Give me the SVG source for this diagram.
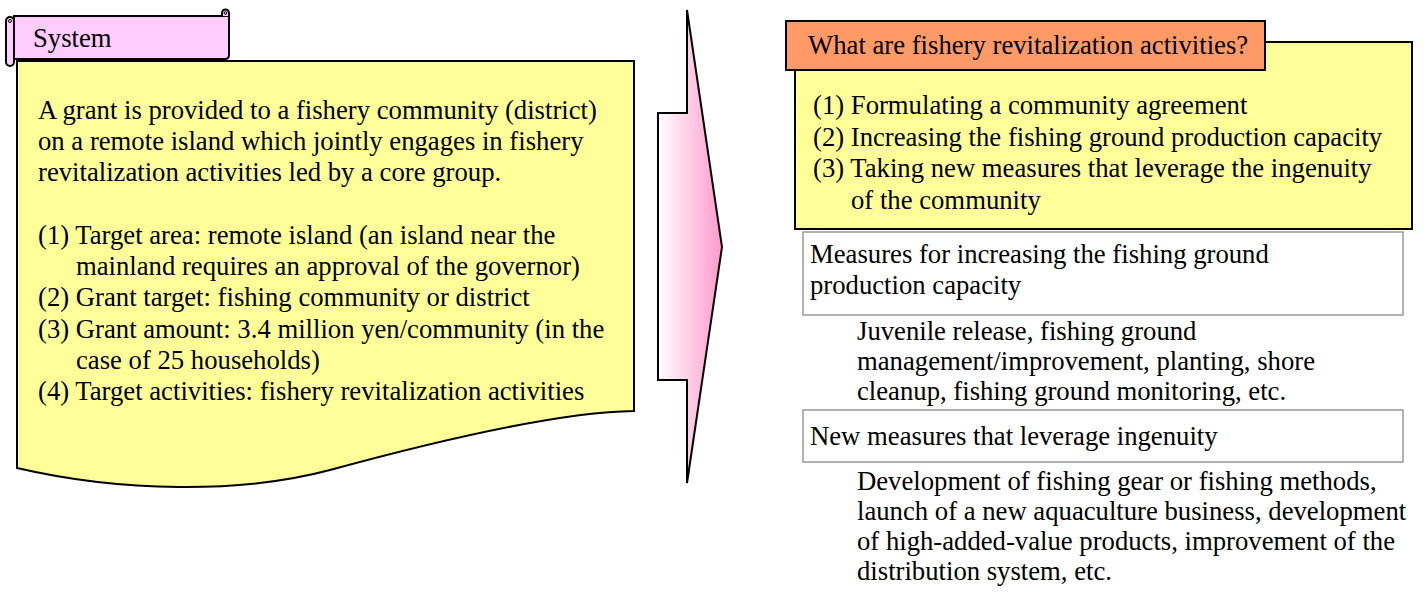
<svg xmlns="http://www.w3.org/2000/svg" width="1424" height="592" viewBox="0 0 1424 592">
<defs>
<linearGradient id="arrowGrad" x1="0" y1="0" x2="1" y2="0">
<stop offset="0" stop-color="#FFFFFF"/>
<stop offset="1" stop-color="#FF99CC"/>
</linearGradient>
<style>
text{font-family:"Liberation Serif","Times New Roman",serif;font-size:26.7px;fill:#000}
.yellow{fill:#FFFF99;stroke:#000;stroke-width:2}
.pink{fill:#FFCCFF;stroke:#000;stroke-width:2}
.orange{fill:#FF9966;stroke:#000;stroke-width:2}
.sub{fill:#FFFFFF;stroke:#999999;stroke-width:1.5}
</style>
</defs>
<rect width="1424" height="592" fill="#FFFFFF"/>

<g id="system-body">
<path class="yellow" d="M17,61 H634 V411 C560,412 440,440 330,470 C240,494 120,492 17,468 Z"/>
<text x="38" y="119">A grant is provided to a fishery community (district)</text>
<text x="38" y="150">on a remote island which jointly engages in fishery</text>
<text x="38" y="181">revitalization activities led by a core group.</text>
<text x="38" y="244">(1) Target area: remote island (an island near the</text>
<text x="76" y="275">mainland requires an approval of the governor)</text>
<text x="38" y="306">(2) Grant target: fishing community or district</text>
<text x="38" y="338">(3) Grant amount: 3.4 million yen/community (in the</text>
<text x="76" y="369">case of 25 households)</text>
<text x="38" y="400">(4) Target activities: fishery revitalization activities</text>
</g>

<g id="system-banner">
<path class="pink" d="M14,16 H229 V55 Q229,59 225,59 H14 Z"/>
<path class="pink" d="M222,16 V13 A3.5,3.5 0 0 1 229,13 V16"/>
<circle cx="225.5" cy="13" r="1.3" fill="none" stroke="#000" stroke-width="1"/>
<rect class="pink" x="6" y="17" width="8" height="49" rx="4"/>
<circle cx="10" cy="21" r="1.5" fill="none" stroke="#000" stroke-width="1"/>
<text x="33" y="47">System</text>
</g>

<g id="connectors">
<path d="M687,10 L722,247 L687,483 V380 H658 V113 H687 Z" fill="url(#arrowGrad)" stroke="#000" stroke-width="2" stroke-linejoin="miter"/>
</g>

<g id="activities-body">
<rect class="yellow" x="795" y="42" width="617" height="187"/>
<text x="813" y="114">(1) Formulating a community agreement</text>
<text x="813" y="146">(2) Increasing the fishing ground production capacity</text>
<text x="813" y="177">(3) Taking new measures that leverage the ingenuity</text>
<text x="851" y="209">of the community</text>
</g>

<g id="activities-header">
<rect class="orange" x="786" y="21" width="479" height="49"/>
<text x="808" y="54">What are fishery revitalization activities?</text>
</g>

<g id="measures-capacity">
<rect class="sub" x="803" y="232" width="600" height="83"/>
<text x="810" y="263">Measures for increasing the fishing ground</text>
<text x="810" y="294">production capacity</text>
</g>

<g id="measures-capacity-detail">
<text x="857" y="340">Juvenile release, fishing ground</text>
<text x="857" y="370">management/improvement, planting, shore</text>
<text x="857" y="400">cleanup, fishing ground monitoring, etc.</text>
</g>

<g id="measures-ingenuity">
<rect class="sub" x="803" y="410" width="600" height="52"/>
<text x="810" y="445">New measures that leverage ingenuity</text>
</g>

<g id="measures-ingenuity-detail">
<text x="857" y="490">Development of fishing gear or fishing methods,</text>
<text x="857" y="520">launch of a new aquaculture business, development</text>
<text x="857" y="550">of high-added-value products, improvement of the</text>
<text x="857" y="580">distribution system, etc.</text>
</g>
</svg>
